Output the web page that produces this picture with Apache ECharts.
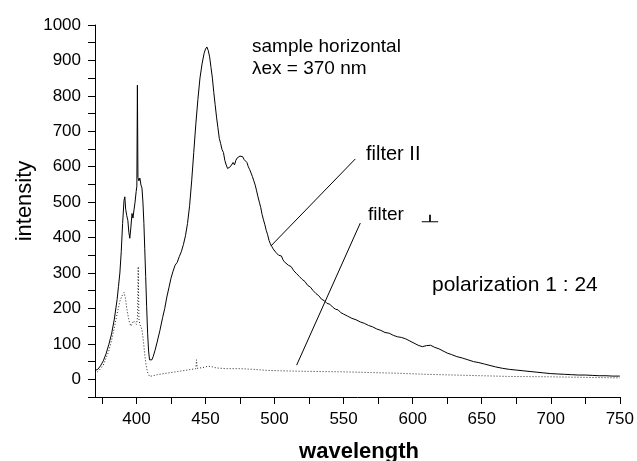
<!DOCTYPE html>
<html>
<head>
<meta charset="utf-8">
<script src="https://cdn.jsdelivr.net/npm/echarts@6/dist/echarts.min.js"></script>
<style>html,body{margin:0;padding:0;background:#fff;overflow:hidden}#c{width:637px;height:461px}</style>
</head>
<body>
<div id="c"></div>
<script>
// filter II (solid)
var xPar = [370,372,374,376,378,380,382,384,386,387,388,389,390,391,391.6,392.2,393,393.8,394.5,395.2,396,396.8,397.5,398.3,399,399.8,400.3,400.7,401.1,401.8,402.5,403.3,404,404.7,405.4,406,406.7,407.4,408.1,408.8,409.5,410.3,411.2,412.2,413.5,415,417,419,420.5,422,423.5,425,426.5,428,429.5,431,432.5,434,435.5,437,438.5,440,441.5,443,444.5,446,447.5,449,450,451,452,453,454,455,456,457,458,459,460,461,462,463,464,465,466,467,468,469,470,471,472,473,474,475,476,477,478,479,480,481,482,483,484,485,486,487,488,489,490,491,492,493,494,495,496,497,498,499,500,501,502,503,504,505,506,507,508,510,512,514,516,518,520,522,524,526,528,530,532,534,536,538,540,542,544,546,548,550,553,556,559,562,565,568,571,574,577,580,583,586,589,592,595,598,601,604,607,610,613,616,619,622,625,628,632,636,640,644,648,652,656,660,665,670,675,680,685,690,695,700,705,710,715,720,725,730,735,740,745,750];
var yPar = [25,28,38,52,72,98,128,170,225,262,300,360,440,505,515,480,462,448,415,398,430,468,455,480,500,530,545,830,570,560,568,548,540,500,440,370,290,205,130,80,55,50,55,65,82,105,138,175,200,232,258,285,305,322,330,346,360,380,405,440,490,560,640,720,790,850,890,920,932,938,928,910,880,850,810,775,740,710,680,665,648,640,618,605,595,590,600,596,612,605,618,625,622,630,625,628,620,622,612,600,592,582,572,560,548,532,515,500,485,465,450,436,420,408,392,382,375,368,364,358,360,350,345,348,338,332,328,322,318,306,298,290,282,276,265,260,250,242,236,226,222,214,212,204,198,196,188,184,178,172,168,162,158,152,148,142,138,132,130,124,120,118,114,108,102,96,92,95,96,90,86,80,74,70,64,60,55,50,47,43,39,35,31,28,26,24,22,20,18,16,15,14,13,12,12,11,10,10,9,9];
// filter ⊥ (dotted)
var xPerp = [370,373,376,378,380,382,384,386,388,389.5,391,392,393,394,395,396,397,398,399,400,400.8,401.3,401.8,402.5,404,405,406,407,408,409.5,412,415,420,425,430,435,440,443,443.5,444,448,452,455,458,465,475,485,495,505,515,530,550,570,590,610,630,650,670,700,730,750];
var yPerp = [16,25,40,60,80,110,145,185,220,235,245,230,200,178,160,150,150,165,160,155,175,318,170,155,140,110,70,40,20,8,10,13,16,19,22,25,28,30,55,31,33,37,35,32,30,30,28,25,24,23,22,21,19,17,14,12,10,8,7,5,4];

var xLabelValues = [400,450,500,550,600,650,700,750];
var xTickValues = [375,400,425,450,475,500,525,550,575,600,625,650,675,700,725,750];
var yLabelValues = [0,100,200,300,400,500,600,700,800,900,1000];
var yTickValues = [-50,0,50,100,150,200,250,300,350,400,450,500,550,600,650,700,750,800,850,900,950,1000];

function pairs(xs, ys){ return xs.map(function(x,i){ return [x, ys[i]]; }); }

var FONT = '"Liberation Sans", Arial, sans-serif';
var chart = echarts.init(document.getElementById('c'), null, {renderer:'canvas', width:637, height:461});
var axisLine = {show:true, onZero:false, lineStyle:{color:'#000', width:1}};
var tickBase = {show:true, inside:false, length:7, lineStyle:{color:'#000', width:1}};
var labelBase = {color:'#000', fontSize:17, fontFamily:FONT, margin:14, formatter:function(v){return String(v);}};
chart.setOption({
  animation:false,
  backgroundColor:'#fff',
  textStyle:{fontFamily:FONT},
  grid:{left:95, top:25, width:528, height:372, containLabel:false},
  xAxis:{
    type:'value', min:370, max:750,
    axisLine:axisLine,
    axisTick:Object.assign({}, tickBase, {customValues:xTickValues}),
    axisLabel:Object.assign({}, labelBase, {customValues:xLabelValues}),
    splitLine:{show:false}
  },
  yAxis:{
    type:'value', min:-50, max:1000,
    axisLine:axisLine,
    axisTick:Object.assign({}, tickBase, {customValues:yTickValues}),
    axisLabel:Object.assign({}, labelBase, {customValues:yLabelValues}),
    splitLine:{show:false}
  },
  series:[
    {
      name:'filter II', type:'line', data:pairs(xPar, yPar), showSymbol:false, symbol:'none',
      lineStyle:{color:'#000', width:1}, silent:true, z:3,
      markLine:{
        silent:true, symbol:['none','none'], label:{show:false},
        lineStyle:{color:'#000', width:1, type:'solid'},
        data:[
          [{coord:[497.3,376]},{coord:[558.5,622]}],
          [{coord:[562.1,441]},{coord:[516,40]}]
        ]
      }
    },
    {
      name:'filter ⊥', type:'line', data:pairs(xPerp, yPerp), showSymbol:false, symbol:'none',
      lineStyle:{color:'#222', width:1, type:[1,2]}, silent:true, z:2
    }
  ],
  graphic:[
    {type:'text', x:25, y:201, rotation:Math.PI/2, style:{text:'intensity', font:'22px '+FONT, fill:'#000', textAlign:'center', textVerticalAlign:'middle'}},
    {type:'text', x:359, y:452, style:{text:'wavelength', font:'bold 22px '+FONT, fill:'#000', textAlign:'center', textVerticalAlign:'middle'}},
    {type:'text', x:252, y:46.5, style:{text:'sample horizontal', font:'19px '+FONT, fill:'#000', textAlign:'left', textVerticalAlign:'middle'}},
    {type:'text', x:252, y:68.5, style:{text:'λex = 370 nm', font:'19px '+FONT, fill:'#000', textAlign:'left', textVerticalAlign:'middle'}},
    {type:'text', x:366, y:154.5, style:{text:'filter II', font:'20px '+FONT, fill:'#000', textAlign:'left', textVerticalAlign:'middle'}},
    {type:'text', x:368, y:215, style:{text:'filter', font:'19px '+FONT, fill:'#000', textAlign:'left', textVerticalAlign:'middle'}},
    {type:'text', x:430, y:223, scaleX:1.0, scaleY:0.45, style:{text:'⊥', font:'20px "Noto Sans CJK SC", "DejaVu Sans", sans-serif', fill:'#000', stroke:'#000', lineWidth:0.6, textAlign:'center', textVerticalAlign:'bottom'}},
    {type:'text', x:432, y:285, style:{text:'polarization 1 : 24', font:'21px '+FONT, fill:'#000', textAlign:'left', textVerticalAlign:'middle'}}
  ]
});
</script>
</body>
</html>
